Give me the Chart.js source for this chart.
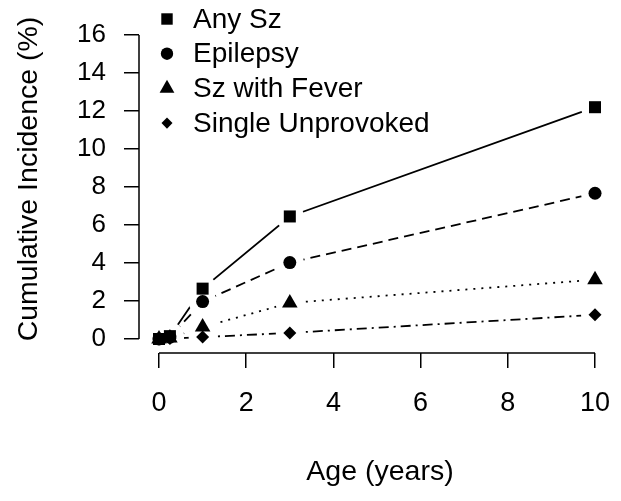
<!DOCTYPE html>
<html>
<head>
<meta charset="utf-8">
<script src="https://cdn.jsdelivr.net/npm/chart.js@4.4.0/dist/chart.umd.min.js"></script>
<style>
  html, body { margin: 0; padding: 0; background: #fff; }
  #wrap { width: 621px; height: 501px; }
</style>
</head>
<body>
<div id="wrap"><canvas id="chart" width="621" height="501"></canvas></div>
<script>
// 累積発生率データ（年齢ごと）
const ages = [0, 0.25, 1, 3, 10];
const anySz = [0, 0.15, 2.65, 6.45, 12.2];
const epilepsy = [0, 0.1, 1.97, 4.02, 7.67];
const szFever = [0, 0.05, 0.63, 1.9, 3.12];
const singleUnprovoked = [0, 0.02, 0.1, 0.32, 1.27];

const seriesNames = ['Any Sz', 'Epilepsy', 'Sz with Fever', 'Single Unprovoked'];
const seriesValues = [anySz, epilepsy, szFever, singleUnprovoked];

const xTicks = [0, 2, 4, 6, 8, 10];
const yTicks = [0, 2, 4, 6, 8, 10, 12, 14, 16];

// 系列ごとの見た目
const markerStyles = [
  { pointStyle: 'rect', radius: 8.5 },
  { pointStyle: 'circle', radius: 6.5 },
  { pointStyle: 'triangle', radius: 9 },
  { pointStyle: 'rectRot', radius: 6.5 }
];
const dashes = [[], [10, 6], [2, 6], [10, 5, 2, 5]];

const FONT = "'Liberation Sans', Arial, sans-serif";

function toPoints(values) {
  return values.map((v, i) => ({ x: ages[i], y: v }));
}

// 線・白抜き・マーカーの3層でR風の途切れた線を再現
const datasets = [];
seriesValues.forEach((values, i) => {
  datasets.push({
    label: seriesNames[i] + ' line',
    data: toPoints(values),
    showLine: true,
    borderColor: '#000',
    borderWidth: 1.8,
    borderDash: dashes[i],
    pointRadius: 0,
    fill: false,
    tension: 0,
    clip: false,
    order: 20 + i
  });
  datasets.push({
    label: seriesNames[i] + ' halo',
    data: toPoints(values),
    showLine: false,
    pointStyle: 'circle',
    pointRadius: 14,
    pointBackgroundColor: '#fff',
    pointBorderWidth: 0,
    clip: false,
    order: 10 + i
  });
  datasets.push({
    label: seriesNames[i],
    data: toPoints(values),
    showLine: false,
    pointStyle: markerStyles[i].pointStyle,
    pointRadius: markerStyles[i].radius,
    pointBackgroundColor: '#000',
    pointBorderWidth: 0,
    clip: false,
    order: i
  });
});

// 軸線（最初の目盛りから最後の目盛りまで）と縦軸タイトル
const axisLinePlugin = {
  id: 'axisLine',
  afterDraw(chart) {
    const ctx = chart.ctx;
    const xs = chart.scales.x;
    const ys = chart.scales.y;
    ctx.save();
    ctx.strokeStyle = '#000';
    ctx.lineWidth = 1.5;
    ctx.beginPath();
    ctx.moveTo(xs.getPixelForValue(xTicks[0]), xs.top);
    ctx.lineTo(xs.getPixelForValue(xTicks[xTicks.length - 1]), xs.top);
    ctx.moveTo(ys.right, ys.getPixelForValue(yTicks[0]));
    ctx.lineTo(ys.right, ys.getPixelForValue(yTicks[yTicks.length - 1]));
    ctx.stroke();

    ctx.translate(29, 179);
    ctx.rotate(-Math.PI / 2);
    ctx.fillStyle = '#000';
    ctx.font = '28.5px ' + FONT;
    ctx.textAlign = 'center';
    ctx.textBaseline = 'middle';
    ctx.fillText('Cumulative Incidence (%)', 0, 0);
    ctx.restore();
  }
};

// 凡例（左上に縦並び）
const legendPlugin = {
  id: 'customLegend',
  afterDraw(chart) {
    const ctx = chart.ctx;
    ctx.save();
    ctx.fillStyle = '#000';
    ctx.font = '28px ' + FONT;
    ctx.textBaseline = 'middle';
    seriesNames.forEach((name, i) => {
      const y = 19 + i * 34.7;
      const m = markerStyles[i];
      Chart.helpers.drawPoint(ctx, {
        pointStyle: m.pointStyle,
        radius: m.radius * (i === 3 ? 0.85 : 0.95),
        rotation: 0,
        borderWidth: 0
      }, 167, y);
      ctx.fillStyle = '#000';
      ctx.fillText(name, 193, y + 1);
    });
    ctx.restore();
  }
};

new Chart(document.getElementById('chart'), {
  type: 'scatter',
  data: { datasets },
  options: {
    responsive: false,
    animation: false,
    layout: { padding: 0, autoPadding: false },
    plugins: {
      legend: { display: false },
      tooltip: { enabled: false }
    },
    scales: {
      x: {
        type: 'linear',
        min: -0.459,
        max: 10.596,
        afterBuildTicks: s => { s.ticks = xTicks.map(v => ({ value: v })); },
        afterFit: s => { s.height = 148; },
        grid: { drawOnChartArea: false, drawTicks: true, tickLength: 15, color: '#000', lineWidth: 1.5 },
        border: { display: false },
        ticks: { color: '#000', font: { family: FONT, size: 27, lineHeight: 2.5 }, padding: 2, maxRotation: 0, autoSkip: false },
        title: { display: true, text: 'Age (years)', color: '#000', font: { family: FONT, size: 28.5 }, padding: { top: 0, bottom: 12 } }
      },
      y: {
        type: 'linear',
        min: -0.737,
        max: 16.074,
        afterBuildTicks: s => { s.ticks = yTicks.map(v => ({ value: v })); },
        afterFit: s => { s.width = 139; },
        grid: { drawOnChartArea: false, drawTicks: true, tickLength: 15, color: '#000', lineWidth: 1.5 },
        border: { display: false },
        ticks: { color: '#000', font: { family: FONT, size: 26 }, padding: 18, autoSkip: false },
        title: { display: false }
      }
    }
  },
  plugins: [axisLinePlugin, legendPlugin]
});
</script>
</body>
</html>
